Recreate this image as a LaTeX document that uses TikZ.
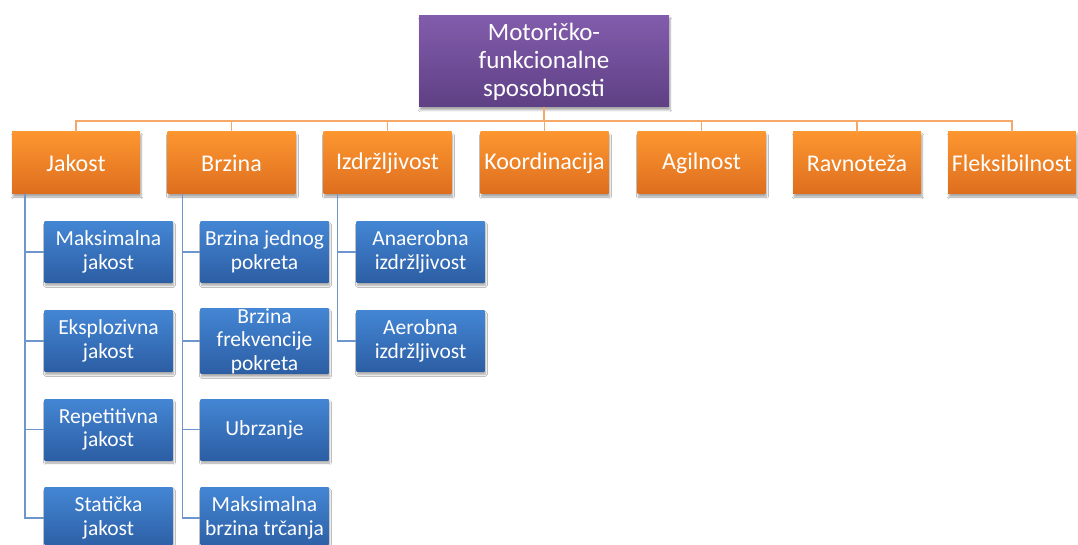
\documentclass[tikz,border=0pt]{standalone}
\usepackage{fontspec}
\setmainfont{Carlito}
\usetikzlibrary{shadows.blur}
\definecolor{purpT}{RGB}{130,92,172}
\definecolor{purpB}{RGB}{94,64,132}
\definecolor{oranT}{RGB}{252,150,48}
\definecolor{oranB}{RGB}{222,110,30}
\definecolor{bluT}{RGB}{68,134,212}
\definecolor{bluB}{RGB}{44,94,164}
\definecolor{oline}{RGB}{246,168,104}
\definecolor{bline}{RGB}{110,150,205}
\tikzset{
  box/.style={inner sep=0pt, align=center, text=white,
    blur shadow={shadow xshift=1pt, shadow yshift=-3pt, shadow opacity=35, shadow blur steps=6}},
  topbox/.style={box, top color=purpT, bottom color=purpB, minimum width=250pt, minimum height=91pt,
    font=\fontsize{25}{28}\selectfont},
  catbox/.style={box, top color=oranT, bottom color=oranB, minimum width=128pt, minimum height=62pt,
    font=\fontsize{24}{28}\selectfont},
  subbox/.style={box, top color=bluT, bottom color=bluB, minimum width=128pt, minimum height=61pt,
    font=\fontsize{21.5}{23.5}\selectfont},
  oconn/.style={draw=oline, line width=1.6pt},
  bconn/.style={draw=bline, line width=1.4pt},
}
\begin{document}
\begin{tikzpicture}[x=1pt,y=-1pt]
\useasboundingbox (0,0) rectangle (1078,545);
\clip (0,0) rectangle (1078,545);
\fill[white] (0,0) rectangle (1078,545);
% connectors first
\coordinate (bus) at (544,121);
\node[topbox] (top) at (544,61.5) {Motoričko-\\funkcionalne\\sposobnosti};
\node[catbox] (jak) at (76,163) {Jakost};
\node[catbox] (brz) at (231.5,163) {Brzina};
\node[catbox] (izd) at (387.5,163) {Izdržljivost};
\node[catbox] (koo) at (544.5,163) {Koordinacija};
\node[catbox] (agi) at (701.5,163) {Agilnost};
\node[catbox] (rav) at (857,163) {Ravnoteža};
\node[catbox] (fle) at (1012,163) {Fleksibilnost};

\node[subbox] (j1) at (108.5,252) {Maksimalna\\jakost};
\node[subbox] (j2) at (108.5,341) {Eksplozivna\\jakost};
\node[subbox] (j3) at (108.5,429.5) {Repetitivna\\jakost};
\node[subbox] (j4) at (108.5,518) {Statička\\jakost};

\node[subbox] (b1) at (264.5,252) {Brzina jednog\\pokreta};
\node[subbox] (b2) at (264.5,341) {Brzina\\frekvencije\\pokreta};
\node[subbox] (b3) at (264.5,429.5) {Ubrzanje};
\node[subbox] (b4) at (264.5,518) {Maksimalna\\brzina trčanja};

\node[subbox] (i1) at (420.5,252) {Anaerobna\\izdržljivost};
\node[subbox] (i2) at (420.5,341) {Aerobna\\izdržljivost};

\begin{scope}[on background layer/.try]
\end{scope}
\foreach \c in {jak,brz,izd,koo,agi,rav,fle}{
  \draw[oconn] (top.south) |- (bus) -| (\c.north);
}
\foreach \c in {j1,j2,j3,j4}{
  \draw[bconn] ([xshift=13pt]jak.south west) |- (\c.west);
}
\foreach \c in {b1,b2,b3,b4}{
  \draw[bconn] ([xshift=15pt]brz.south west) |- (\c.west);
}
\foreach \c in {i1,i2}{
  \draw[bconn] ([xshift=14pt]izd.south west) |- (\c.west);
}
\end{tikzpicture}
\end{document}
